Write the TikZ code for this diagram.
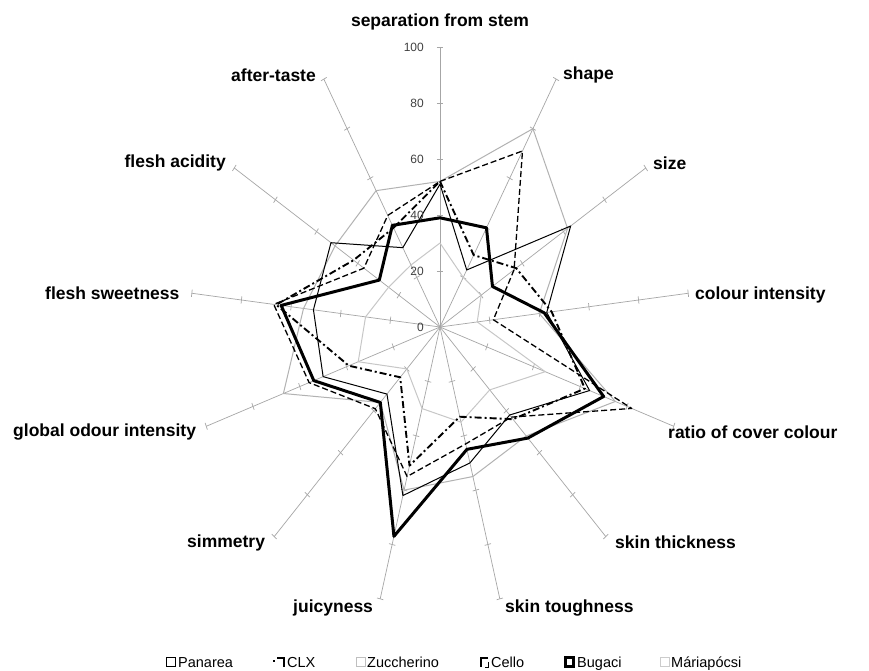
\documentclass[tikz,border=0pt]{standalone}
\usepackage{fontspec}
\setmainfont{Liberation Sans}
\newcommand\radarpath[3]{\draw[#1] (90:#2) \foreach[count=\i] \v in {#3} { -- ({90-\i*360/13}:\v) } -- cycle;}
\begin{document}
\begin{tikzpicture}[x=1pt,y=-1pt,
  axisline/.style={draw=black!35, line width=0.7pt},
  lab/.style={font=\fontsize{17.5}{20}\selectfont\bfseries, inner sep=0pt},
  ticklab/.style={font=\fontsize{12}{14}\selectfont, text=black!75, anchor=east, inner sep=0pt},
  legtext/.style={font=\fontsize{14.5}{16}\selectfont, anchor=base west, inner sep=0pt},
  panarea/.style={draw=black, line width=1pt, line join=round},
  clx/.style={draw=black, line width=1.9pt, line join=round, dash pattern=on 7pt off 3pt on 2pt off 3pt},
  zucch/.style={draw=black!30, line width=1pt, line join=round},
  cello/.style={draw=black, line width=1.3pt, line join=round, dash pattern=on 6pt off 3pt},
  bugaci/.style={draw=black, line width=3pt, line join=round},
  maria/.style={draw=black!22, line width=1pt, line join=round}]
\useasboundingbox (0,0) rectangle (869,671);
\fill[white] (0,0) rectangle (869,671);
\begin{scope}[shift={(440,327)}, x=2.5pt, y=2.8pt]
  \foreach \k in {0,...,12} {
    \pgfmathsetmacro\a{90-\k*360/13}
    \draw[axisline] (0,0) -- (\a:100);
    \foreach \t in {20,40,60,80,100} {
      \draw[axisline] ([shift={(\a+90:1.3)}]\a:\t) -- ([shift={(\a-90:1.3)}]\a:\t);
    }
  }
  \radarpath{maria}{30}{20,20,15,45,30,35,30,20,35,30,25,25}
  \radarpath{zucch}{52}{80,62,40,75,52,55,60,36,67,55,51,55}
  \radarpath{panarea}{51}{23,63.5,43,64,42,50,62,32,50,51,53,32}
  \radarpath{clx}{52}{29,37,45,62,44,33,51,24,39,66,42,40}
  \radarpath{cello}{52}{71,36,21.5,82,43,43,55,39,56,67,37,45}
  \radarpath{bugaci}{39}{40,25.5,42,70,53,45,77,36,54,64,29.5,41}
\end{scope}
% tick labels
\foreach \t in {0,20,40,60,80,100} {
  \node[ticklab] (t\t) at (424,{327-2.8*\t}) {\t};
}
% category labels
\node[lab, anchor=south] (l0) at (440,30) {separation from stem};
\node[lab, anchor=west] (l1) at (563,75) {shape};
\node[lab, anchor=west] (l2) at (653,163) {size};
\node[lab, anchor=west] (l3) at (695,295) {colour intensity};
\node[lab, anchor=west] (l4) at (668,432) {ratio of cover colour};
\node[lab, anchor=west] (l5) at (615,542) {skin thickness};
\node[lab, anchor=west] (l6) at (505,608) {skin toughness};
\node[lab, anchor=west] (l7) at (293,608) {juicyness};
\node[lab, anchor=west] (l8) at (187,543) {simmetry};
\node[lab, anchor=west] (l9) at (13,432) {global odour intensity};
\node[lab, anchor=west] (l10) at (45,293) {flesh sweetness};
\node[lab, anchor=east] (l11) at (226,163) {flesh acidity};
\node[lab, anchor=west] (l12) at (231,75) {after-taste};
% legend
\draw[black, line width=1.2pt] (166.5,657.5) rectangle (175.5,666.5);
\node[legtext] (g1) at (178,667) {Panarea};
\fill[black] (273,660) rectangle (275,662);
\draw[black, line width=1.8pt] (277,658) -- (284,658) -- (284,667);
\node[legtext] (g2) at (287,667) {CLX};
\draw[black!25, line width=0.8pt] (356.5,657.5) rectangle (365.5,666.5);
\node[legtext] (g3) at (367,667) {Zuccherino};
\draw[black, line width=1.3pt] (488,658) -- (481,658) -- (481,667);
\draw[black, line width=1pt] (485,667) -- (488,667) -- (488,662);
\node[legtext] (g4) at (491,667) {Cello};
\draw[black, line width=2.6pt] (565.3,657.3) rectangle (573.7,666.7);
\node[legtext] (g5) at (577,667) {Bugaci};
\draw[black!20, line width=0.8pt] (660.5,657.5) rectangle (669.5,666.5);
\node[legtext] (g6) at (671,667) {Máriapócsi};
\end{tikzpicture}
\end{document}
